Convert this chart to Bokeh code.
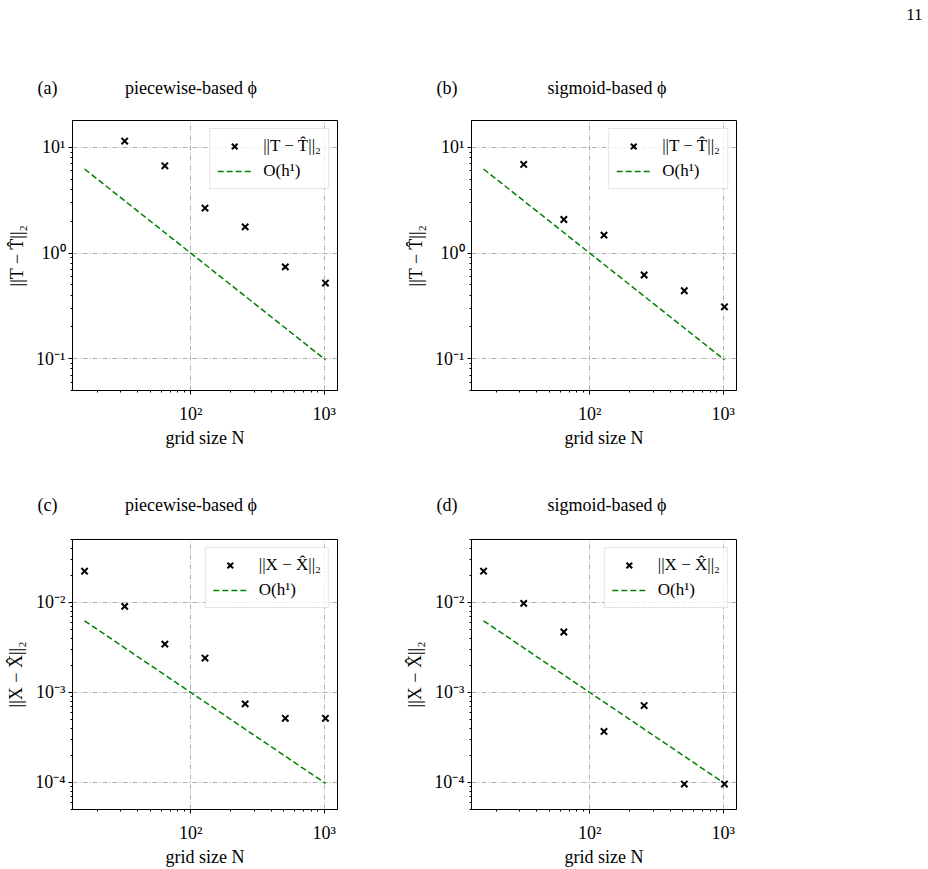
import numpy as np
from bokeh.plotting import figure
from bokeh.models import (FixedTicker, CustomJSTickFormatter, Range1d,
                          Legend, LegendItem, Title)
from bokeh.layouts import column, row
from bokeh.embed import file_html
from bokeh.resources import INLINE

# ---------------- data ----------------
N_T = [32, 64, 128, 256, 512, 1024]
errT_piecewise = [11.5, 6.7, 2.67, 1.77, 0.74, 0.52]
errT_sigmoid = [6.9, 2.08, 1.48, 0.62, 0.44, 0.31]

N_X = [16, 32, 64, 128, 256, 512, 1024]
errX_piecewise = [0.0222, 0.00904, 0.00344, 0.00241, 0.000746, 0.000515, 0.000515]
errX_sigmoid = [0.0222, 0.00975, 0.00469, 0.000368, 0.000715, 0.0000958, 0.0000958]

N_ref = [16, 1024]
ref_T = [6.25, 0.09766]
ref_X = [0.00625, 0.00009766]

x_major = [100, 1000]
x_minor = [20, 30, 40, 50, 60, 70, 80, 90, 200, 300, 400, 500, 600, 700, 800, 900]
yT_major = [0.1, 1, 10]
yT_minor = [0.05, 0.06, 0.07, 0.08, 0.09, 0.2, 0.3, 0.4, 0.5, 0.6, 0.7, 0.8, 0.9,
            2, 3, 4, 5, 6, 7, 8, 9]
yX_major = [1e-4, 1e-3, 1e-2]
yX_minor = [5e-5, 6e-5, 7e-5, 8e-5, 9e-5, 2e-4, 3e-4, 4e-4, 5e-4, 6e-4, 7e-4, 8e-4, 9e-4,
            2e-3, 3e-3, 4e-3, 5e-3, 6e-3, 7e-3, 8e-3, 9e-3, 2e-2, 3e-2, 4e-2, 5e-2]
yT_range = (0.05, 18)
yX_range = (5e-5, 5e-2)

label_T = "||T \u2212 T\u0302||\u2082"
label_X = "||X \u2212 X\u0302||\u2082"
label_ref = "O(h\u00b9)"
xlabel = "grid size N"
titles = ["piecewise-based \u03d5", "sigmoid-based \u03d5"]
tags = ["(a)", "(b)", "(c)", "(d)"]
page_number = "11"

FONT = "Liberation Serif"
NB = "\u00a0"

span = np.log10(max(N_ref)) - np.log10(min(N_ref))
xlo = 10 ** (np.log10(min(N_ref)) - 0.05 * span)
xhi = 10 ** (np.log10(max(N_ref)) + 0.05 * span)

sup_js = """
const e = Math.round(Math.log10(tick));
const m = {'-':'\u207b','0':'\u2070','1':'\u00b9','2':'\u00b2','3':'\u00b3','4':'\u2074',
           '5':'\u2075','6':'\u2076','7':'\u2077','8':'\u2078','9':'\u2079'};
return '10' + String(e).split('').map(c => m[c]).join('');
"""


def make_panel(width, height, bl, br, bt, bb, yr, ymaj, ymin, N, err, ref,
               ylabel, leglabel, tag, title, gap, title_standoff):
    ttl = Title(text=tag + NB * gap + title, align="left", offset=-35,
                text_font=FONT, text_font_size="18px", text_font_style="normal",
                text_color="black", standoff=title_standoff)
    p = figure(width=width, height=height, x_axis_type="log", y_axis_type="log",
               x_range=Range1d(xlo, xhi), y_range=Range1d(*yr),
               output_backend="svg", toolbar_location=None, title=ttl,
               min_border_left=bl, min_border_right=br,
               min_border_top=bt, min_border_bottom=bb)
    p.xaxis.ticker = FixedTicker(ticks=x_major, minor_ticks=x_minor)
    p.yaxis.ticker = FixedTicker(ticks=ymaj, minor_ticks=ymin)
    fmt = CustomJSTickFormatter(code=sup_js)
    p.xaxis.formatter = fmt
    p.yaxis.formatter = fmt
    for ax in (p.xaxis, p.yaxis):
        ax.axis_line_color = "black"
        ax.major_tick_line_color = "black"
        ax.minor_tick_line_color = "black"
        ax.major_tick_out = 4
        ax.major_tick_in = 0
        ax.minor_tick_out = 2
        ax.minor_tick_in = 0
        ax.major_label_text_font = FONT
        ax.major_label_text_font_size = "18px"
        ax.major_label_text_color = "black"
        ax.axis_label_text_font = FONT
        ax.axis_label_text_font_size = "18px"
        ax.axis_label_text_font_style = "normal"
        ax.axis_label_text_color = "black"
    p.xaxis.major_label_standoff = 9
    p.yaxis.major_label_standoff = 3
    p.xaxis.axis_label = xlabel
    p.yaxis.axis_label = ylabel
    p.xaxis.axis_label_standoff = 1
    p.yaxis.axis_label_standoff = 6
    p.outline_line_color = "black"
    p.outline_line_alpha = 1
    p.outline_line_width = 1
    p.grid.grid_line_color = "#b0b0b0"
    p.grid.grid_line_dash = "5 2 1 2"
    p.grid.grid_line_width = 1

    ln = p.line(N_ref, ref, line_color="green", line_width=1.5, line_dash="6 3")
    sc = p.scatter(N, err, marker="x", size=9, line_color="black", line_width=2)

    leg = Legend(items=[LegendItem(label=leglabel, renderers=[sc]),
                        LegendItem(label=label_ref, renderers=[ln])],
                 location="top_right")
    leg.border_line_color = "#cccccc"
    leg.border_line_width = 1
    leg.background_fill_alpha = 0.8
    leg.label_text_font = FONT
    leg.label_text_font_size = "17px"
    leg.label_text_color = "black"
    leg.glyph_width = 34
    leg.glyph_height = 20
    leg.label_height = 20
    leg.label_standoff = 12
    leg.padding = 7
    leg.spacing = 5
    leg.margin = 8
    p.add_layout(leg)
    return p


pa = make_panel(400, 450, 72, 63, 120, 56, yT_range, yT_major, yT_minor, N_T,
                errT_piecewise, ref_T, label_T, label_T, tags[0], titles[0], 15, 46)
pb = make_panel(400, 450, 71, 64, 120, 56, yT_range, yT_major, yT_minor, N_T,
                errT_sigmoid, ref_T, label_T, label_T, tags[1], titles[1], 20, 46)
pc = make_panel(400, 419, 72, 63, 89, 56, yX_range, yX_major, yX_minor, N_X,
                errX_piecewise, ref_X, label_X, label_X, tags[2], titles[0], 15, 50)
pd_ = make_panel(400, 419, 71, 64, 89, 56, yX_range, yX_major, yX_minor, N_X,
                 errX_sigmoid, ref_X, label_X, label_X, tags[3], titles[1], 20, 50)

# narrow empty strip that only carries the page number at the top right
p11 = figure(width=128, height=60, output_backend="svg", toolbar_location=None,
             x_axis_location=None, y_axis_location=None,
             min_border_left=0, min_border_right=0, min_border_top=0, min_border_bottom=0,
             title=Title(text=page_number, align="right", offset=6, standoff=12,
                         text_font=FONT, text_font_size="17px", text_font_style="normal",
                         text_color="black"))
p11.grid.visible = False
p11.outline_line_color = None

layout = row(column(row(pa, pb), row(pc, pd_)), p11)
open("out.html", "w").write(file_html(layout, INLINE))
